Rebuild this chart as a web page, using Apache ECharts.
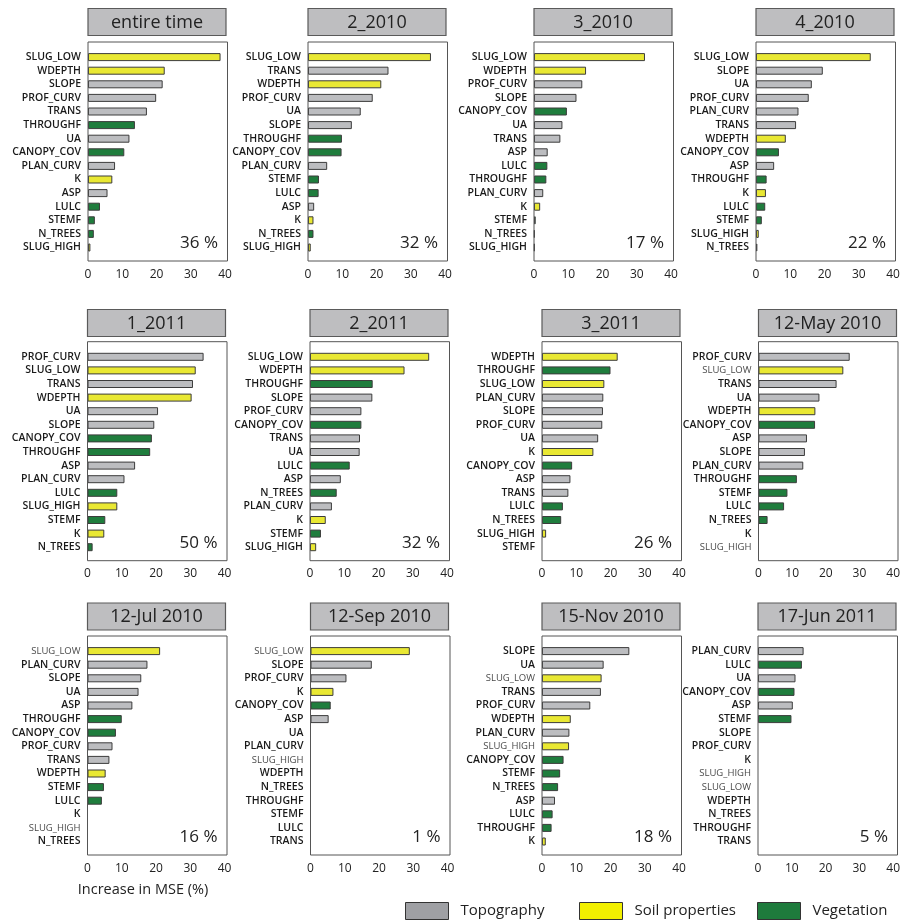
<!DOCTYPE html>
<html>
<head>
<meta charset="utf-8">
<script src="https://cdn.jsdelivr.net/npm/echarts@6/dist/echarts.min.js"></script>
<style>
html, body { margin: 0; padding: 0; background: #fff; }
#main { width: 903px; height: 920px; }
</style>
</head>
<body>
<div id="main"></div>
<script>
// variable groups (bar colour)
const topoVars = ['SLOPE', 'PROF_CURV', 'PLAN_CURV', 'TRANS', 'UA', 'ASP'];
const soilVars = ['SLUG_LOW', 'SLUG_HIGH', 'WDEPTH', 'K'];
const vegVars = ['THROUGHF', 'CANOPY_COV', 'LULC', 'STEMF', 'N_TREES'];

const panelTitles = ['entire time', '2_2010', '3_2010', '4_2010',
  '1_2011', '2_2011', '3_2011', '12-May 2010',
  '12-Jul 2010', '12-Sep 2010', '15-Nov 2010', '17-Jun 2011'];
const panelPercent = ['36 %', '32 %', '17 %', '22 %', '50 %', '32 %', '26 %', '',
  '16 %', '1 %', '18 %', '5 %'];

const varsEntire = ['SLUG_LOW', 'WDEPTH', 'SLOPE', 'PROF_CURV', 'TRANS', 'THROUGHF', 'UA', 'CANOPY_COV', 'PLAN_CURV', 'K', 'ASP', 'LULC', 'STEMF', 'N_TREES', 'SLUG_HIGH'];
const mseEntire = [38.7, 22.4, 21.8, 19.9, 17.2, 13.7, 12.1, 10.6, 7.9, 7.1, 5.7, 3.5, 2.0, 1.7, 0.7];

const vars2010_2 = ['SLUG_LOW', 'TRANS', 'WDEPTH', 'PROF_CURV', 'UA', 'SLOPE', 'THROUGHF', 'CANOPY_COV', 'PLAN_CURV', 'STEMF', 'LULC', 'ASP', 'K', 'N_TREES', 'SLUG_HIGH'];
const mse2010_2 = [35.9, 23.5, 21.4, 18.9, 15.4, 12.8, 9.9, 9.8, 5.6, 3.2, 3.1, 1.8, 1.6, 1.6, 0.8];

const vars2010_3 = ['SLUG_LOW', 'WDEPTH', 'PROF_CURV', 'SLOPE', 'CANOPY_COV', 'UA', 'TRANS', 'ASP', 'LULC', 'THROUGHF', 'PLAN_CURV', 'K', 'STEMF', 'N_TREES', 'SLUG_HIGH'];
const mse2010_3 = [32.4, 15.2, 14.1, 12.4, 9.6, 8.3, 7.7, 4.0, 3.9, 3.6, 2.7, 1.8, 0.5, 0.2, 0.2];

const vars2010_4 = ['SLUG_LOW', 'SLOPE', 'UA', 'PROF_CURV', 'PLAN_CURV', 'TRANS', 'WDEPTH', 'CANOPY_COV', 'ASP', 'THROUGHF', 'K', 'LULC', 'STEMF', 'SLUG_HIGH', 'N_TREES'];
const mse2010_4 = [33.5, 19.5, 16.3, 15.4, 12.4, 11.7, 8.7, 6.7, 5.3, 3.1, 2.9, 2.7, 1.7, 0.8, 0.4];

const vars2011_1 = ['PROF_CURV', 'SLUG_LOW', 'TRANS', 'WDEPTH', 'UA', 'SLOPE', 'CANOPY_COV', 'THROUGHF', 'ASP', 'PLAN_CURV', 'LULC', 'SLUG_HIGH', 'STEMF', 'K', 'N_TREES'];
const mse2011_1 = [33.9, 31.6, 30.8, 30.4, 20.6, 19.5, 18.8, 18.3, 13.9, 10.8, 8.7, 8.7, 5.2, 4.9, 1.5];

const vars2011_2 = ['SLUG_LOW', 'WDEPTH', 'THROUGHF', 'SLOPE', 'PROF_CURV', 'CANOPY_COV', 'TRANS', 'UA', 'LULC', 'ASP', 'N_TREES', 'PLAN_CURV', 'K', 'STEMF', 'SLUG_HIGH'];
const mse2011_2 = [34.8, 27.6, 18.3, 18.2, 15.0, 15.0, 14.6, 14.5, 11.6, 9.0, 7.8, 6.4, 4.6, 3.2, 1.8];

const vars2011_3 = ['WDEPTH', 'THROUGHF', 'SLUG_LOW', 'PLAN_CURV', 'SLOPE', 'PROF_CURV', 'UA', 'K', 'CANOPY_COV', 'ASP', 'TRANS', 'LULC', 'N_TREES', 'SLUG_HIGH', 'STEMF'];
const mse2011_3 = [22.1, 20.0, 18.2, 17.9, 17.8, 17.6, 16.4, 15.0, 8.8, 8.3, 7.7, 6.1, 5.6, 1.2, 0];

const varsMay2010 = ['PROF_CURV', 'SLUG_LOW', 'TRANS', 'UA', 'WDEPTH', 'CANOPY_COV', 'ASP', 'SLOPE', 'PLAN_CURV', 'THROUGHF', 'STEMF', 'LULC', 'N_TREES', 'K', 'SLUG_HIGH'];
const mseMay2010 = [27.1, 25.2, 23.2, 18.1, 16.9, 16.8, 14.4, 13.8, 13.3, 11.4, 8.6, 7.6, 2.7, 0, 0];

const varsJul2010 = ['SLUG_LOW', 'PLAN_CURV', 'SLOPE', 'UA', 'ASP', 'THROUGHF', 'CANOPY_COV', 'PROF_CURV', 'TRANS', 'WDEPTH', 'STEMF', 'LULC', 'K', 'SLUG_HIGH', 'N_TREES'];
const mseJul2010 = [21.2, 17.5, 15.7, 14.9, 13.1, 10.0, 8.3, 7.3, 6.4, 5.3, 4.8, 4.2, 0, 0, 0];

const varsSep2010 = ['SLUG_LOW', 'SLOPE', 'PROF_CURV', 'K', 'CANOPY_COV', 'ASP', 'UA', 'PLAN_CURV', 'SLUG_HIGH', 'WDEPTH', 'N_TREES', 'THROUGHF', 'STEMF', 'LULC', 'TRANS'];
const mseSep2010 = [29.0, 17.9, 10.5, 6.7, 5.9, 5.3, 0, 0, 0, 0, 0, 0, 0, 0, 0];

const varsNov2010 = ['SLOPE', 'UA', 'SLUG_LOW', 'TRANS', 'PROF_CURV', 'WDEPTH', 'PLAN_CURV', 'SLUG_HIGH', 'CANOPY_COV', 'STEMF', 'N_TREES', 'ASP', 'LULC', 'THROUGHF', 'K'];
const mseNov2010 = [25.5, 18.0, 17.4, 17.2, 14.1, 8.4, 8.0, 7.9, 6.3, 5.3, 4.7, 3.8, 3.1, 2.8, 1.1];

const varsJun2011 = ['PLAN_CURV', 'LULC', 'UA', 'CANOPY_COV', 'ASP', 'STEMF', 'SLOPE', 'PROF_CURV', 'K', 'SLUG_HIGH', 'SLUG_LOW', 'WDEPTH', 'N_TREES', 'THROUGHF', 'TRANS'];
const mseJun2011 = [13.5, 13.0, 11.1, 10.8, 10.3, 9.9, 0, 0, 0, 0, 0, 0, 0, 0, 0];

const xTicks = [0, 10, 20, 30, 40];

const panelVars = [varsEntire, vars2010_2, vars2010_3, vars2010_4, vars2011_1, vars2011_2, vars2011_3, varsMay2010, varsJul2010, varsSep2010, varsNov2010, varsJun2011];
const panelMse = [mseEntire, mse2010_2, mse2010_3, mse2010_4, mse2011_1, mse2011_2, mse2011_3, mseMay2010, mseJul2010, mseSep2010, mseNov2010, mseJun2011];

// panels where the SLUG_* labels are printed in a lighter, thinner font
const lightSlugPanels = [7, 8, 9, 10, 11];

// layout
const colLeft = [[88, 308, 534, 756], [87.5, 310, 542, 758.5], [87.5, 310.5, 542, 758]];
const rowGridTop = [50.3, 350, 644.3];
const rowTitleTop = [8.5, 309.5, 603];
const plotW = 137;
const gridH = 204;

const GRAY = '#bcbdc0', YELLOW = '#e9e833', GREEN = '#1f7d3d';
function colorOf(v) {
  if (soilVars.indexOf(v) >= 0) return YELLOW;
  if (vegVars.indexOf(v) >= 0) return GREEN;
  return GRAY;
}

const chart = echarts.init(document.getElementById('main'));

const grids = [], xAxes = [], yAxes = [], series = [], graphics = [];
const font = 'Open Sans';

panelTitles.forEach(function (title, i) {
  const row = Math.floor(i / 4), col = i % 4;
  const left = colLeft[row][col];
  const top = rowGridTop[row];
  const vars = panelVars[i];
  const light = lightSlugPanels.indexOf(i) >= 0;

  grids.push({ left: left, top: top, width: plotW, height: gridH, containLabel: false });

  const xa = {
    gridIndex: i, type: 'value', min: xTicks[0], max: xTicks[xTicks.length - 1], interval: 10,
    axisLine: { show: false }, axisTick: { show: false }, splitLine: { show: false },
    axisLabel: { fontSize: 12, color: '#222', margin: 14, fontFamily: font, showMinLabel: true, showMaxLabel: true }
  };
  if (i === 8) {
    xa.name = 'Increase in MSE (%)';
    xa.nameLocation = 'middle';
    xa.nameGap = 34;
    xa.nameTextStyle = { fontSize: 14.5, color: '#222', fontFamily: font, padding: [0, 26, 0, 0] };
  }
  xAxes.push(xa);

  yAxes.push({
    gridIndex: i, type: 'category', data: vars, inverse: true,
    axisLine: { show: false }, axisTick: { show: false },
    axisLabel: {
      interval: 0, margin: 7,
      formatter: function (v) {
        return (light && v.indexOf('SLUG') === 0) ? '{l|' + v + '}' : '{b|' + v + '}';
      },
      rich: {
        b: { fontSize: 10.5, fontWeight: 600, color: '#1a1a1a', fontFamily: font },
        l: { fontSize: 9.5, fontWeight: 400, color: '#4a4a4a', fontFamily: font }
      }
    }
  });

  series.push({
    type: 'bar', xAxisIndex: i, yAxisIndex: i, barWidth: 8, silent: true,
    data: panelMse[i].map(function (v, j) {
      return { value: v, itemStyle: { color: colorOf(vars[j]), borderColor: '#3c3c3c', borderWidth: v > 0 ? 1 : 0 } };
    })
  });

  // title box
  graphics.push({
    type: 'rect', z: 10,
    shape: { x: left, y: rowTitleTop[row], width: plotW + 1, height: 27 },
    style: { fill: '#bebec0', stroke: '#5a5a5a', lineWidth: 1.2 }
  });
  graphics.push({
    type: 'text', z: 11,
    style: {
      text: title, x: left + (plotW + 1) / 2, y: rowTitleTop[row] + 14,
      textAlign: 'center', textVerticalAlign: 'middle', align: 'center', verticalAlign: 'middle',
      font: '18px "Open Sans"', fill: '#222'
    }
  });
  // plot frame
  graphics.push({
    type: 'rect', z: 10,
    shape: { x: left, y: top - 8.3, width: plotW + 2.5, height: gridH + 15 },
    style: { fill: 'none', stroke: '#555', lineWidth: 1 }
  });
  if (panelPercent[i]) {
    graphics.push({
      type: 'text', z: 11,
      style: {
        text: panelPercent[i], x: left + plotW - 7, y: top + gridH - 11,
        textAlign: 'right', textVerticalAlign: 'middle', align: 'right', verticalAlign: 'middle',
        font: '17px "Open Sans"', fill: '#222'
      }
    });
  }
});

// empty series only for the legend
const legendNames = ['Topography', 'Soil properties', 'Vegetation'];
const legendColors = ['#9fa0a4', '#f2f000', '#1e7b3c'];
const legendLeft = [405, 579, 757];
legendNames.forEach(function (n, k) {
  series.push({
    type: 'scatter', name: n, data: [], xAxisIndex: 0, yAxisIndex: 0,
    itemStyle: { color: legendColors[k], opacity: 1 }
  });
});

const legends = legendNames.map(function (n, k) {
  return {
    data: [{ name: n, icon: 'rect', itemStyle: { color: legendColors[k], borderColor: '#333', borderWidth: 1, opacity: 1 } }],
    left: legendLeft[k], top: 902, padding: 0,
    itemWidth: 43, itemHeight: 17, selectedMode: false,
    textStyle: { fontSize: 15, color: '#222', fontFamily: font, padding: [0, 0, 0, 7] }
  };
});

const option = {
  animation: false,
  backgroundColor: '#fff',
  grid: grids,
  xAxis: xAxes,
  yAxis: yAxes,
  series: series,
  legend: legends,
  graphic: graphics
};

option && chart.setOption(option);
</script>
</body>
</html>
